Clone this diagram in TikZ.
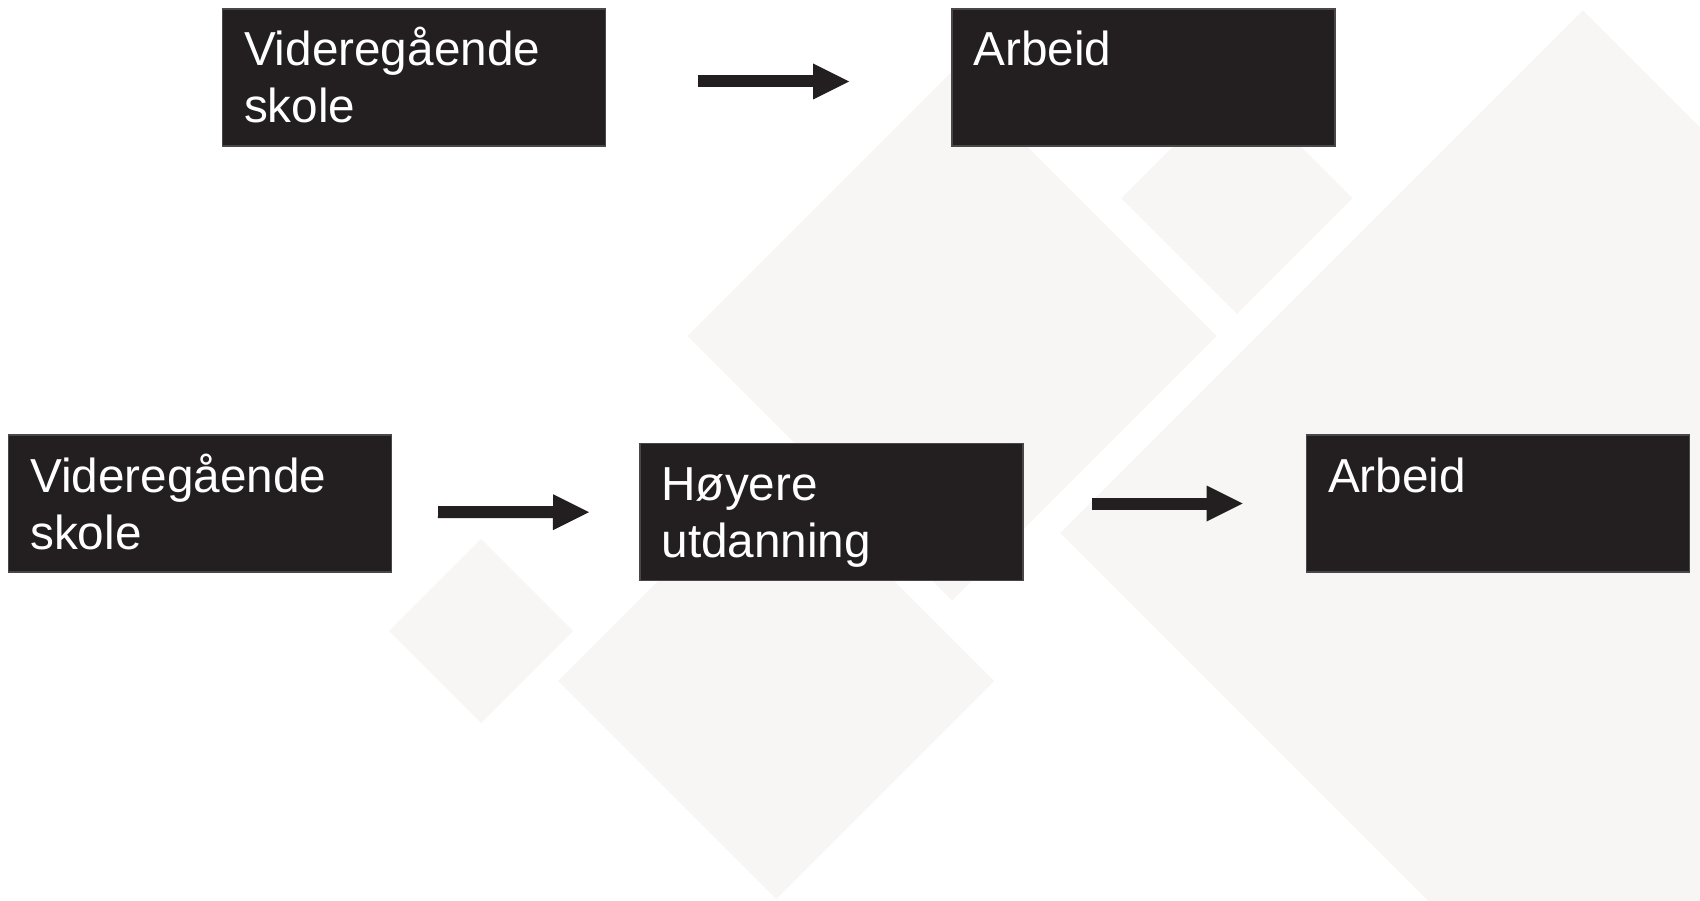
\documentclass[tikz,border=0pt]{standalone}
\usepackage{fontspec}
\setmainfont{Liberation Sans}
\usetikzlibrary{arrows.meta,calc}
\definecolor{boxc}{HTML}{231F20}
\definecolor{bgdia}{HTML}{F7F6F4}
\definecolor{boxline}{HTML}{4A4748}
\begin{document}
\begin{tikzpicture}[x=1pt,y=-1pt,
  box/.style={draw=boxline, line width=1.2pt, fill=boxc, minimum width=383pt, minimum height=137pt, anchor=north west, inner sep=0pt, outer sep=0pt},
  lbl/.style={text=white, font=\fontsize{47.7}{57}\selectfont, anchor=base west, inner sep=0pt, outer sep=0pt},
  flow/.style={draw=boxc, line width=12pt, line cap=butt, -{Triangle[length=36pt,width=36pt,line width=0pt]}},
  dia/.style={fill=bgdia, draw=none}]
\useasboundingbox (0,0) rectangle (1700,901);
\fill[white] (0,0) rectangle (1700,901);
\begin{scope}
\clip (0,0) rectangle (1700,901);
% background diamonds
\fill[dia] (687.5,336) -- (952,71.5) -- (1216.5,336) -- (952,600.5) -- cycle;
\fill[dia] (1121.5,198.4) -- (1237,82.9) -- (1352.5,198.4) -- (1237,313.9) -- cycle;
\fill[dia] (1060.4,533) -- (1583,10.4) -- (2105.6,533) -- (1583,1055.6) -- cycle;
\fill[dia] (389,631) -- (481,539) -- (573,631) -- (481,723) -- cycle;
\fill[dia] (558,681) -- (776,463) -- (994,681) -- (776,899) -- cycle;
\end{scope}
% boxes
\node[box] (b1) at (222.5,9) {};
\node[box] (b2) at (952,9) {};
\node[box] (b3) at (8.7,435) {};
\node[box] (b4) at (640,443.5) {};
\node[box] (b5) at (1306.5,435) {};
% labels
\node[lbl] (t1a) at (244,66) {Videregående};
\node[lbl] (t1b) at (244,123) {skole};
\node[lbl] (t2) at (973.5,66) {Arbeid};
\node[lbl] (t3a) at (30.2,492) {Videregående};
\node[lbl] (t3b) at (30.2,549) {skole};
\node[lbl] (t4a) at (661.5,500.5) {Høyere};
\node[lbl] (t4b) at (661.5,557.5) {utdanning};
\node[lbl] (t5) at (1328,492) {Arbeid};
% arrows
\draw[flow] ($(b1.east)+(92,4)$) -- ($(b2.west)+(-103,4)$);
\draw[flow] ($(b3.east)+(46.3,8.5)$) -- ($(b4.west)+(-51,0.2)$);
\draw[flow] ($(b4.east)+(69,-8.5)$) -- ($(b5.west)+(-64,0)$);
\end{tikzpicture}
\end{document}
